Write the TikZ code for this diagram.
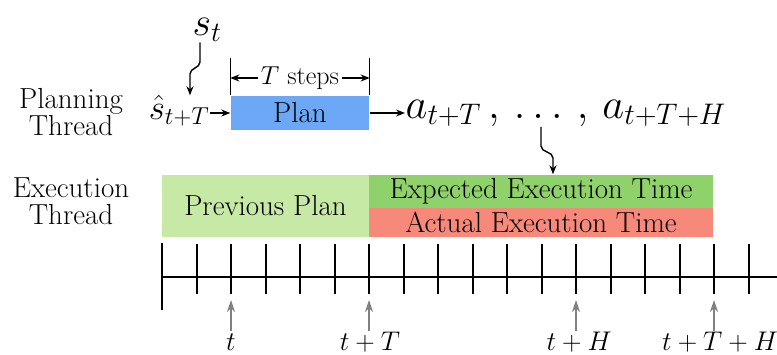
\RequirePackage{fix-cm}
\documentclass[tikz,border=0pt]{standalone}
\usepackage{amsmath}
\usepackage{tikz}
\usetikzlibrary{calc,arrows.meta}
\tikzset{>={Stealth[length=9pt,width=7pt]}}

\definecolor{planblue}{RGB}{108,168,245}
\definecolor{prevgreen}{RGB}{198,233,166}
\definecolor{expgreen}{RGB}{143,209,106}
\definecolor{actred}{RGB}{247,137,123}

\begin{document}
\begin{tikzpicture}[x=1pt,y=-1pt,line width=1.4pt,
    txt/.style={font=\fontsize{29}{27}\selectfont, align=center, inner sep=0pt},
    bar/.style={font=\fontsize{29}{30}\selectfont, inner sep=0pt},
    big/.style={font=\fontsize{40}{44}\selectfont, inner sep=0pt},
    when/.style={font=\fontsize{27}{28}\selectfont, anchor=base, text height=17pt, text depth=0pt, inner sep=2pt},
    markarrow/.style={->, gray, line width=1.2pt, >={Stealth[length=12pt,width=8pt]}}]

    \useasboundingbox (0,0) rectangle (777,355);

    % Thread labels
    \node[txt] (plthread) at (71,112) {Planning\\Thread};
    \node[txt] (exthread) at (71,201) {Execution\\Thread};

    % Bars of both threads
    \node[bar, fill=planblue, minimum width=138, minimum height=34] (plan) at (300,113) {Plan};
    \node[bar, fill=prevgreen, minimum width=207, minimum height=62] (prev) at (265.5,206) {Previous Plan};
    \node[bar, fill=expgreen, minimum width=344, minimum height=33] (exp) at (541,191.5) {Expected Execution Time};
    \node[bar, fill=actred, minimum width=344, minimum height=29] (act) at (541,222.5) {Actual Execution Time};

    % States and actions
    \node[big] (st) at (207,30) {$s_t$};
    \node[font=\fontsize{35}{36}\selectfont, inner sep=0pt] (shat) at (179,111) {$\hat{s}_{t+T}$};
    \node[big, font=\fontsize{42.5}{44}\selectfont, anchor=west] (acts) at (405,113) {$a_{t+T}\,,\,\ldots\,,\,a_{t+T+H}$};

    % T steps span over the plan
    \node[font=\fontsize{26}{28}\selectfont, inner sep=2pt] (tsteps) at (300,78) {$T$ steps};
    \draw (plan.north west) -- ++(0,-37);
    \draw (plan.north east) -- ++(0,-37);
    \draw[->] (tsteps.west) -- (tsteps.west -| plan.west);
    \draw[->] (tsteps.east) -- (tsteps.east -| plan.east);

    % Arrows of the planning thread
    \coordinate (stturn) at (190,74);
    \draw[->] (st.south -| 200,0) -- (200,62) to[out=-90,in=90] (stturn) -- (stturn |- plan.north);
    \draw[->] (shat.east |- plan.west) -- (plan.west);
    \draw[->] (plan.east) -- (plan.east -| acts.west);
    \coordinate (dotsturn) at (553,158);
    \draw[->] (acts.south -| 541,0) -- (541,146) to[out=-90,in=90] (dotsturn) -- (dotsturn |- exp.north);

    % Time line
    \draw (162,277) -- (777,277);
    \draw (162,243) -- (162,310);
    \foreach \i in {1,...,17} {
        \draw ({round(162+34.5*\i)},244) -- ++(0,50);
        \coordinate (mark\i) at ({round(162+34.5*\i)},300);
    }

    % Time marks
    \node[when] (wt) at (231,351) {$t$};
    \node[when] (wtT) at (370,351) {$t+T$};
    \node[when] (wtH) at (579,351) {$t+H$};
    \node[when] (wtTH) at (720,351) {$t+T+H$};
    \draw[markarrow] (wt.north -| mark2) -- (mark2);
    \draw[markarrow] (wtT.north -| mark6) -- (mark6);
    \draw[markarrow] (wtH.north -| mark12) -- (mark12);
    \draw[markarrow] (wtTH.north -| mark16) -- (mark16);

\end{tikzpicture}
\end{document}
